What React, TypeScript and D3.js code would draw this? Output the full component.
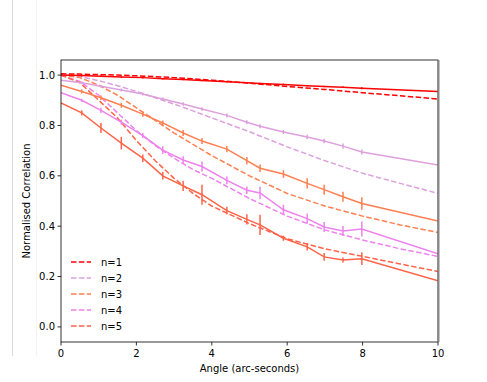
import React from 'react';
import * as d3 from 'd3';

// observed (solid, with error bars)
const obsAngles = [0, 0.55, 1.06, 1.6, 2.17, 2.7, 3.24, 3.74, 4.4, 4.93, 5.28, 5.9, 6.53, 6.98, 7.48, 7.98, 10];
const obsN1 = [1.0, 0.998, 0.995, 0.992, 0.99, 0.986, 0.983, 0.979, 0.974, 0.97, 0.967, 0.963, 0.958, 0.955, 0.952, 0.948, 0.935];
const obsN2 = [0.98, 0.97, 0.956, 0.941, 0.925, 0.905, 0.885, 0.865, 0.84, 0.813, 0.797, 0.774, 0.754, 0.738, 0.718, 0.695, 0.643];
const obsN3 = [0.96, 0.935, 0.91, 0.88, 0.845, 0.81, 0.77, 0.738, 0.706, 0.66, 0.63, 0.607, 0.57, 0.545, 0.517, 0.49, 0.42];
const obsN4 = [0.93, 0.9, 0.86, 0.813, 0.76, 0.702, 0.663, 0.637, 0.582, 0.543, 0.532, 0.465, 0.43, 0.397, 0.381, 0.389, 0.29];
const obsN5 = [0.89, 0.85, 0.79, 0.73, 0.67, 0.6, 0.56, 0.525, 0.462, 0.427, 0.405, 0.352, 0.318, 0.278, 0.266, 0.271, 0.183];

const errN1 = [0, 0.003, 0.003, 0.003, 0.003, 0.003, 0.003, 0.003, 0.003, 0.003, 0.003, 0.003, 0.003, 0.003, 0.003, 0.004, 0];
const errN2 = [0, 0.005, 0.005, 0.006, 0.006, 0.006, 0.007, 0.007, 0.008, 0.008, 0.008, 0.008, 0.009, 0.009, 0.01, 0.01, 0];
const errN3 = [0, 0.008, 0.009, 0.01, 0.01, 0.01, 0.012, 0.012, 0.012, 0.015, 0.015, 0.015, 0.02, 0.02, 0.02, 0.025, 0];
const errN4 = [0, 0.006, 0.01, 0.01, 0.01, 0.015, 0.015, 0.02, 0.015, 0.015, 0.025, 0.02, 0.02, 0.02, 0.02, 0.03, 0];
const errN5 = [0, 0.01, 0.02, 0.025, 0.015, 0.015, 0.02, 0.04, 0.015, 0.02, 0.04, 0.01, 0.015, 0.015, 0.01, 0.025, 0];

// model (dashed)
const modelAngles = [0, 0.5, 1, 1.5, 2, 2.5, 3, 3.5, 4, 5, 6, 7, 8, 9, 10];
const modN1 = [1.005, 1.004, 1.002, 1.0, 0.997, 0.994, 0.99, 0.985, 0.98, 0.968, 0.955, 0.943, 0.93, 0.918, 0.905];
const modN2 = [1.0, 0.995, 0.978, 0.958, 0.935, 0.91, 0.885, 0.858, 0.83, 0.775, 0.715, 0.66, 0.61, 0.57, 0.53];
const modN3 = [1.0, 0.99, 0.96, 0.92, 0.87, 0.82, 0.77, 0.725, 0.68, 0.6, 0.53, 0.48, 0.44, 0.405, 0.375];
const modN4 = [1.0, 0.975, 0.92, 0.85, 0.78, 0.72, 0.67, 0.625, 0.59, 0.51, 0.44, 0.385, 0.345, 0.31, 0.28];
const modN5 = [1.0, 0.97, 0.9, 0.83, 0.74, 0.66, 0.59, 0.53, 0.48, 0.41, 0.35, 0.31, 0.28, 0.25, 0.22];

const labels = ['n=1', 'n=2', 'n=3', 'n=4', 'n=5'];
const colors = ['#ff0000', '#dda0dd', '#ff7f50', '#ee82ee', '#ff6347'];
const xTicks = [0, 2, 4, 6, 8, 10];
const yTicks = [0.0, 0.2, 0.4, 0.6, 0.8, 1.0];

const obsSeries = [obsN1, obsN2, obsN3, obsN4, obsN5];
const errSeries = [errN1, errN2, errN3, errN4, errN5];
const modSeries = [modN1, modN2, modN3, modN4, modN5];

const W = 487;
const H = 382;
const left = 61, right = 438, top = 60, bottom = 342;
const font = 'DejaVu Sans, sans-serif';

export default function App() {
  const x = d3.scaleLinear().domain([0, 10]).range([left, right]);
  const y = d3.scaleLinear().domain([-0.06, 1.06]).range([bottom, top]);
  const line = d3.line<[number, number]>().x(d => x(d[0])).y(d => y(d[1]));

  return (
    <svg width={W} height={H} style={{ position: 'absolute', left: 0, top: 0, background: '#fff' }}>
      <line x1={12.5} x2={12.5} y1={0} y2={356} stroke="#d9d9d9" />
      <line x1={36.5} x2={36.5} y1={0} y2={356} stroke="#f2f2f2" />
      <defs>
        <clipPath id="plot">
          <rect x={left} y={top} width={right - left} height={bottom - top} />
        </clipPath>
      </defs>
      <g clipPath="url(#plot)">
        {modSeries.map((vals, i) => (
          <path key={'m' + i} d={line(modelAngles.map((a, j) => [a, vals[j]]))!}
            fill="none" stroke={colors[i]} strokeWidth={1.5} strokeDasharray="5.5,2.4" />
        ))}
        {obsSeries.map((vals, i) => (
          <g key={'o' + i}>
            <path d={line(obsAngles.map((a, j) => [a, vals[j]]))!}
              fill="none" stroke={colors[i]} strokeWidth={1.5} />
            {obsAngles.map((a, j) => errSeries[i][j] > 0 ? (
              <line key={j} x1={x(a)} x2={x(a)} y1={y(vals[j] - errSeries[i][j])} y2={y(vals[j] + errSeries[i][j])}
                stroke={colors[i]} strokeWidth={1.5} />
            ) : null)}
          </g>
        ))}
      </g>
      {/* frame */}
      <rect x={left} y={top} width={right - left} height={bottom - top} fill="none" stroke="#000" strokeWidth={0.8} />
      <line x1={right + 0.5} x2={right + 0.5} y1={top} y2={bottom} stroke="#888" strokeWidth={2} />
      {xTicks.map(t => (
        <g key={'x' + t}>
          <line x1={x(t)} x2={x(t)} y1={bottom} y2={bottom + 3.5} stroke="#000" strokeWidth={0.8} />
          <text x={x(t)} y={bottom + 15} textAnchor="middle" fontFamily={font} fontSize={10} fill="#000">{t}</text>
        </g>
      ))}
      {yTicks.map(t => (
        <g key={'y' + t}>
          <line x1={left - 3.5} x2={left} y1={y(t)} y2={y(t)} stroke="#000" strokeWidth={0.8} />
          <text x={left - 6} y={y(t) + 3.5} textAnchor="end" fontFamily={font} fontSize={10} fill="#000">{t.toFixed(1)}</text>
        </g>
      ))}
      <text x={(left + right) / 2} y={372} textAnchor="middle" fontFamily={font} fontSize={10} fill="#000">Angle (arc-seconds)</text>
      <text transform={`translate(30,${(top + bottom) / 2}) rotate(-90)`} textAnchor="middle" fontFamily={font} fontSize={10} fill="#000">Normalised Correlation</text>
      {labels.map((l, i) => (
        <g key={l}>
          <line x1={71} x2={91} y1={262 + i * 16} y2={262 + i * 16} stroke={colors[i]} strokeWidth={1.5} strokeDasharray="5.5,2.4" />
          <text x={101} y={266 + i * 16} fontFamily={font} fontSize={10} fill="#000">{l}</text>
        </g>
      ))}
    </svg>
  );
}
